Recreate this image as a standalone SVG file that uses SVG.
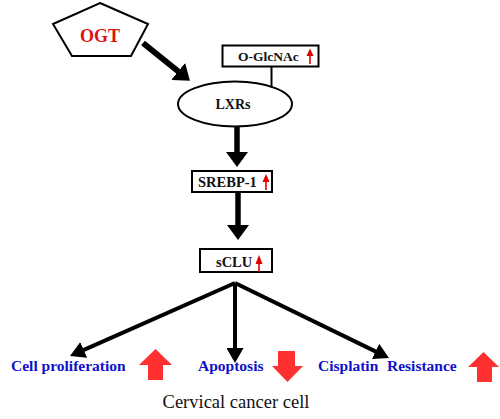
<svg xmlns="http://www.w3.org/2000/svg" width="500" height="419" viewBox="0 0 500 419">
<defs>
<style>
.box{fill:#fff;stroke:#000;stroke-width:2}
.lbl{font-family:"Liberation Serif","Times New Roman",serif;font-weight:bold;fill:#111}
.blue{font-family:"Liberation Serif","Times New Roman",serif;font-weight:bold;fill:#1010cc;font-size:15.5px}
.thick{stroke:#000;fill:none}
.redup{fill:#ff3030}
.rs{stroke:#e00000;stroke-width:1.6;fill:none}
.rh{fill:#e00000}
</style>
<marker id="big" markerUnits="userSpaceOnUse" markerWidth="15" markerHeight="22" viewBox="0 0 15 22" refX="1" refY="11" orient="auto">
<path d="M0,0 L15,11 L0,22 Z" fill="#000"/>
</marker>
<marker id="med" markerUnits="userSpaceOnUse" markerWidth="15" markerHeight="17" viewBox="0 0 15 17" refX="1" refY="8.5" orient="auto">
<path d="M0,0 L15,8.5 L0,17 Z" fill="#000"/>
</marker>
</defs>
<rect width="500" height="419" fill="#fff"/>
<g id="connectors">
<line class="thick" x1="143" y1="43" x2="179" y2="72" stroke-width="6" marker-end="url(#big)"/>
<line class="thick" x1="271.5" y1="66" x2="271.5" y2="87" stroke-width="2"/>
<line class="thick" x1="237" y1="126" x2="237" y2="153" stroke-width="5.5" marker-end="url(#big)"/>
<line class="thick" x1="238" y1="192" x2="238" y2="226" stroke-width="5.5" marker-end="url(#big)"/>
<line class="thick" x1="235" y1="283" x2="82.8" y2="350.3" stroke-width="4" marker-end="url(#med)"/>
<line class="thick" x1="235" y1="283" x2="235" y2="349" stroke-width="4" marker-end="url(#med)"/>
<line class="thick" x1="235" y1="283" x2="376.4" y2="351.9" stroke-width="4" marker-end="url(#med)"/>
</g>
<g id="ogt">
<polygon points="100,3 148,24 131,56 72,56 53,24" fill="#fff" stroke="#000" stroke-width="2"/>
<text x="100" y="42" text-anchor="middle" font-family="'Liberation Serif',serif" font-weight="bold" font-size="18" fill="#e01010">OGT</text>
</g>
<g id="oglcnac">
<rect class="box" x="222.5" y="45.5" width="96" height="21" stroke-width="1.6"/>
<text class="lbl" x="238" y="61" font-size="13.5">O-GlcNAc</text>
<line class="rs" x1="310" y1="64" x2="310" y2="54"/>
<polygon class="rh" points="306.5,56 310,48.5 313.5,56"/>
</g>
<g id="lxrs">
<ellipse cx="235" cy="104" rx="57" ry="22.5" fill="#fff" stroke="#000" stroke-width="2"/>
<text class="lbl" x="233" y="109" text-anchor="middle" font-size="14">LXRs</text>
</g>
<g id="srebp1">
<rect class="box" x="192" y="171" width="80" height="21"/>
<text class="lbl" x="198" y="187" font-size="14.5">SREBP-1</text>
<line class="rs" x1="266" y1="190" x2="266" y2="180"/>
<polygon class="rh" points="262.5,182 266,174 269.5,182"/>
</g>
<g id="sclu">
<rect class="box" x="200" y="249" width="72" height="23"/>
<text class="lbl" x="216" y="267" font-size="14.5">sCLU</text>
<line class="rs" x1="259" y1="272" x2="259" y2="262"/>
<polygon class="rh" points="255.5,264 259,255 262.5,264"/>
</g>
<g id="cell-proliferation">
<text class="blue" x="11" y="371">Cell proliferation</text>
<polygon class="redup" points="155.5,349 172,365 163,365 163,380 148,380 148,365 139,365"/>
</g>
<g id="apoptosis">
<text class="blue" x="198" y="371">Apoptosis</text>
<polygon class="redup" points="272,366 278,366 278,351 295,351 295,366 303,366 287.5,382"/>
</g>
<g id="cisplatin-resistance">
<text class="blue" x="318" y="371">Cisplatin</text>
<text class="blue" x="387" y="371">Resistance</text>
<polygon class="redup" points="483.5,352 499,367 492,367 492,382 477,382 477,367 468,367"/>
</g>
<text x="236" y="408" text-anchor="middle" font-family="'Liberation Serif',serif" font-size="18.5" fill="#111">Cervical cancer cell</text>
</svg>
